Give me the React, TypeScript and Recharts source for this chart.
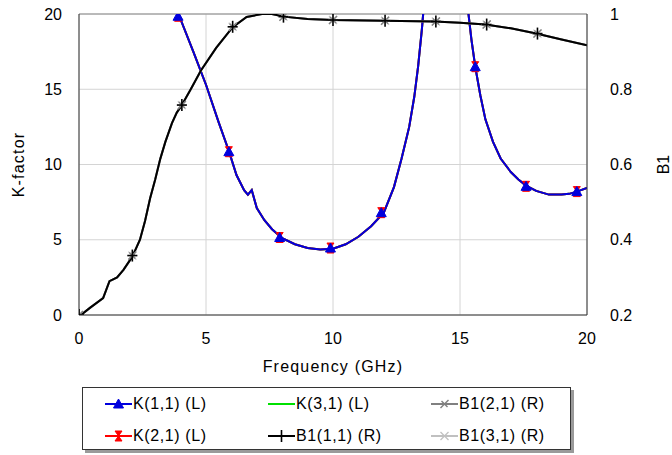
import React from 'react';
import {
  ComposedChart,
  Line,
  Scatter,
  XAxis,
  YAxis,
  CartesianGrid,
  ReferenceLine,
} from 'recharts';

// K-factor curve (left axis), same for K(1,1), K(2,1), K(3,1)
const kFreq = [
  3.7, 3.94, 4.5, 5.0, 5.5, 5.9, 6.2, 6.5, 6.65, 6.8, 7.0, 7.3, 7.6, 8.0, 8.5, 9.0,
  9.5, 10.0, 10.5, 11.0, 11.5, 12.0, 12.4, 12.7, 13.0, 13.2, 13.35, 13.5, 13.6,
  13.8, 14.5, 15.1, 15.3, 15.45, 15.6, 15.8, 16.0, 16.3, 16.6, 17.0, 17.3, 17.6,
  18.0, 18.5, 19.0, 19.3, 19.6, 20.0,
];
const kValues = [
  21.2, 19.9, 17.5, 15.3, 12.8, 10.9, 9.3, 8.3, 8.0, 8.3, 7.1, 6.3, 5.7, 5.1, 4.7,
  4.45, 4.35, 4.4, 4.7, 5.2, 5.9, 6.8, 8.5, 10.4, 12.5, 14.5, 16.5, 19.0, 21.0,
  26.0, 40.0, 26.0, 20.5, 18.3, 16.5, 14.6, 13.0, 11.5, 10.4, 9.5, 9.0, 8.6, 8.25,
  8.0, 8.0, 8.05, 8.2, 8.45,
];
const kMarkFreq = [3.9, 5.9, 7.9, 9.9, 11.9, 15.6, 17.6, 19.6];
const kMarkValues = [19.85, 10.85, 5.15, 4.45, 6.8, 16.5, 8.55, 8.2];

// B1 curve (right axis), same for B1(1,1), B1(2,1), B1(3,1)
const b1Freq = [
  0, 0.17, 0.43, 0.95, 1.2, 1.5, 1.75, 2.1, 2.4, 2.6, 2.8, 3.0, 3.2, 3.4, 3.66,
  3.85, 4.05, 4.4, 4.8, 5.4, 6.05, 6.6, 7.2, 7.6, 8.05, 9.0, 10.0, 12.0, 14.0,
  15.0, 16.0, 17.0, 18.0, 19.0, 20.0,
];
const b1Values = [
  0.2, 0.205, 0.219, 0.245, 0.29, 0.3, 0.32, 0.355, 0.4, 0.45, 0.51, 0.56, 0.615,
  0.66, 0.71, 0.738, 0.758, 0.8, 0.85, 0.91, 0.965, 0.992, 1.0, 1.0, 0.993, 0.987,
  0.984, 0.982, 0.98, 0.977, 0.972, 0.962, 0.948, 0.932, 0.917,
];
const b1MarkFreq = [0, 2.1, 4.05, 6.05, 8.05, 10.0, 12.05, 14.05, 16.05, 18.05];
const b1MarkValues = [0.2, 0.358, 0.758, 0.966, 0.993, 0.984, 0.982, 0.98, 0.972, 0.948];

const xTicks = [0, 5, 10, 15, 20];
const kTicks = [0, 5, 10, 15, 20];
const b1Ticks = [0.2, 0.4, 0.6, 0.8, 1];

const zip = (xs: number[], ys: number[]) => xs.map((x, i) => ({ x, y: ys[i] }));

const kData = zip(kFreq, kValues);
const kMarks = zip(kMarkFreq, kMarkValues);
const b1Data = zip(b1Freq, b1Values);
const b1Marks = zip(b1MarkFreq, b1MarkValues);

const FONT = "'Liberation Sans', Arial, sans-serif";
const BLUE = '#0000dd';
const RED = '#ff0000';
const GREEN = '#00e000';
const GRAY = '#808080';
const LIGHT = '#c0c0c0';

type MarkProps = { cx?: number; cy?: number };

const triangle = (color: string) => ({ cx = 0, cy = 0 }: MarkProps) => (
  <polygon
    points={`${cx},${cy - 5} ${cx + 5},${cy + 4} ${cx - 5},${cy + 4}`}
    fill={color}
    stroke={color}
    strokeWidth={1}
  />
);

const hourglass = (color: string) => ({ cx = 0, cy = 0 }: MarkProps) => (
  <path
    d={`M${cx - 3.5},${cy - 5} L${cx + 3.5},${cy - 5} L${cx - 3.5},${cy + 5} L${cx + 3.5},${cy + 5} Z`}
    fill={color}
    stroke={color}
    strokeWidth={1}
  />
);

const plus = (color: string) => ({ cx = 0, cy = 0 }: MarkProps) => (
  <g stroke={color} strokeWidth={1.6}>
    <line x1={cx - 5} y1={cy} x2={cx + 5} y2={cy} />
    <line x1={cx} y1={cy - 6} x2={cx} y2={cy + 6} />
  </g>
);

const cross = (color: string) => ({ cx = 0, cy = 0 }: MarkProps) => (
  <g stroke={color} strokeWidth={1.4}>
    <line x1={cx - 4} y1={cy + 4} x2={cx + 4} y2={cy - 4} />
    <line x1={cx - 3} y1={cy - 3} x2={cx + 3} y2={cy + 3} />
  </g>
);

const star = (color: string) => ({ cx = 0, cy = 0 }: MarkProps) => (
  <g stroke={color} strokeWidth={1.2}>
    <line x1={cx - 5} y1={cy} x2={cx + 5} y2={cy} />
    <line x1={cx - 4} y1={cy + 4} x2={cx + 4} y2={cy - 4} />
    <line x1={cx - 4} y1={cy - 4} x2={cx + 4} y2={cy + 4} />
  </g>
);

const legendItems = [
  { name: 'K(1,1) (L)', color: BLUE, mark: triangle(BLUE), col: 0, row: 0 },
  { name: 'K(2,1) (L)', color: RED, mark: hourglass(RED), col: 0, row: 1 },
  { name: 'K(3,1) (L)', color: GREEN, mark: null, col: 1, row: 0 },
  { name: 'B1(1,1) (R)', color: '#000', mark: plus('#000'), col: 1, row: 1 },
  { name: 'B1(2,1) (R)', color: GRAY, mark: cross(GRAY), col: 2, row: 0 },
  { name: 'B1(3,1) (R)', color: LIGHT, mark: star(LIGHT), col: 2, row: 1 },
];

const colX = [22, 185, 348];
const rowY = [7, 39];

function ChartLegend() {
  return (
    <div
      style={{
        position: 'absolute',
        left: 82,
        top: 387,
        width: 487,
        height: 61,
        border: '1px solid #333',
        background: '#fff',
        boxShadow: '3px 3px 0 #9a9a9a',
        fontFamily: FONT,
        fontSize: 16,
      }}
    >
      {legendItems.map((it) => {
        const Mark = it.mark;
        return (
          <div
            key={it.name}
            style={{
              position: 'absolute',
              left: colX[it.col],
              top: rowY[it.row],
              display: 'flex',
              alignItems: 'center',
              height: 18,
              whiteSpace: 'nowrap',
            }}
          >
            <svg width={28} height={14} style={{ display: 'block' }}>
              <line x1={0} y1={7} x2={27} y2={7} stroke={it.color} strokeWidth={2} />
              {Mark && <Mark cx={13.5} cy={7} />}
            </svg>
            <span style={{ color: '#000', letterSpacing: 0.6 }}>{it.name}</span>
          </div>
        );
      })}
    </div>
  );
}

export default function App() {
  const tick = { fill: '#000', fontSize: 16, fontFamily: FONT };
  const labelStyle = { fill: '#000', fontSize: 16, fontFamily: FONT, letterSpacing: 1.2 };
  return (
    <div style={{ position: 'absolute', left: 0, top: 0, width: 672, height: 455, background: '#fff' }}>
      <ComposedChart
        width={672}
        height={455}
        margin={{ top: 14, right: 0, bottom: 100, left: 0 }}
        style={{ fontFamily: FONT }}
      >
        <CartesianGrid stroke="#d4d4d4" yAxisId="L" />
        <XAxis
          dataKey="x"
          type="number"
          domain={[0, 20]}
          ticks={xTicks}
          allowDataOverflow
          height={40}
          tickLine={false}
          tickSize={0}
          tickMargin={18}
          axisLine={{ stroke: '#333' }}
          tick={tick}
          label={{
            value: 'Frequency (GHz)',
            position: 'bottom',
            offset: 6,
            style: labelStyle,
          }}
        />
        <YAxis
          yAxisId="L"
          type="number"
          domain={[0, 20]}
          ticks={kTicks}
          allowDataOverflow
          width={79}
          tickLine={false}
          tickSize={0}
          tickMargin={17}
          axisLine={{ stroke: '#333' }}
          tick={tick}
          label={{
            value: 'K-factor',
            angle: -90,
            position: 'insideLeft',
            offset: 18,
            style: { ...labelStyle, textAnchor: 'middle' },
          }}
        />
        <YAxis
          yAxisId="R"
          orientation="right"
          type="number"
          domain={[0.2, 1]}
          ticks={b1Ticks}
          allowDataOverflow
          width={85}
          tickLine={false}
          tickSize={0}
          tickMargin={23}
          axisLine={{ stroke: '#333' }}
          tick={tick}
          label={{
            value: 'B1',
            angle: -90,
            position: 'insideRight',
            offset: 9,
            style: { ...labelStyle, letterSpacing: 0, textAnchor: 'middle' },
          }}
        />
        <ReferenceLine yAxisId="L" y={20} stroke="#8a8a8a" strokeWidth={1} />

        <Line data={kData} dataKey="y" yAxisId="L" type="linear" stroke={GREEN} strokeWidth={2} dot={false} isAnimationActive={false} />
        <Line data={kData} dataKey="y" yAxisId="L" type="linear" stroke={RED} strokeWidth={2} dot={false} isAnimationActive={false} />
        <Line data={kData} dataKey="y" yAxisId="L" type="linear" stroke={BLUE} strokeWidth={2} dot={false} isAnimationActive={false} />
        <Scatter data={kMarks} dataKey="y" yAxisId="L" shape={hourglass(RED)} isAnimationActive={false} />
        <Scatter data={kMarks} dataKey="y" yAxisId="L" shape={triangle(BLUE)} isAnimationActive={false} />

        <Line data={b1Data} dataKey="y" yAxisId="R" type="linear" stroke={LIGHT} strokeWidth={2} dot={false} isAnimationActive={false} />
        <Line data={b1Data} dataKey="y" yAxisId="R" type="linear" stroke={GRAY} strokeWidth={2} dot={false} isAnimationActive={false} />
        <Line data={b1Data} dataKey="y" yAxisId="R" type="linear" stroke="#000" strokeWidth={2} dot={false} isAnimationActive={false} />
        <Scatter data={b1Marks} dataKey="y" yAxisId="R" shape={star(LIGHT)} isAnimationActive={false} />
        <Scatter data={b1Marks} dataKey="y" yAxisId="R" shape={cross(GRAY)} isAnimationActive={false} />
        <Scatter data={b1Marks} dataKey="y" yAxisId="R" shape={plus('#000')} isAnimationActive={false} />
      </ComposedChart>
      <ChartLegend />
    </div>
  );
}
